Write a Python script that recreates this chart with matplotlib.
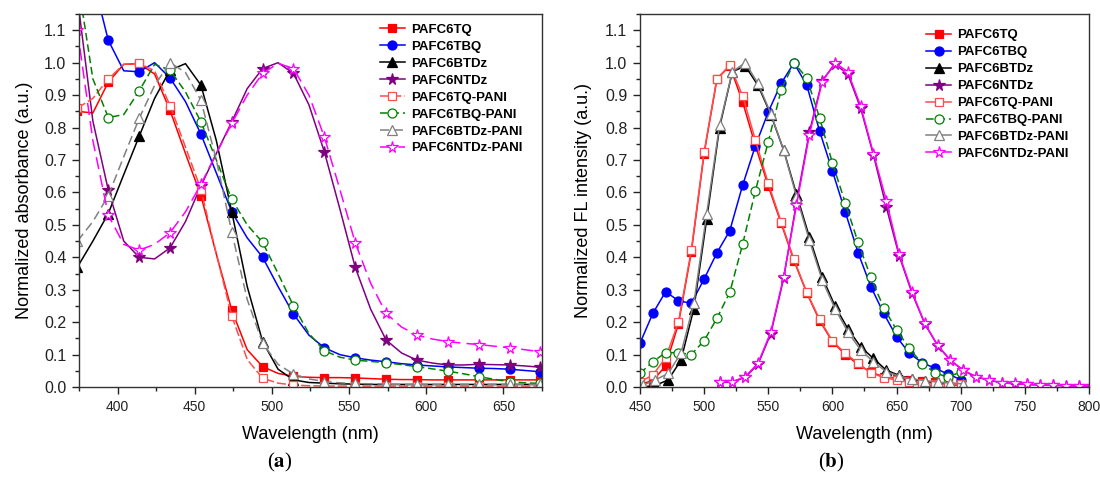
import numpy as np
import matplotlib
matplotlib.use("Agg")
import matplotlib.pyplot as plt
from matplotlib.ticker import MultipleLocator

plt.rcParams["font.family"] = ["Liberation Sans", "DejaVu Sans"]
plt.rcParams["mathtext.fontset"] = "stix"

# ---- (a) absorption spectra, sampled every 10 nm ----
abs_nm = np.arange(374, 675, 10)

abs_tq = [0.85, 0.845, 0.94, 0.995, 0.997, 0.965, 0.853, 0.72, 0.59, 0.41, 0.237,
          0.115, 0.063, 0.042, 0.033, 0.030, 0.029, 0.029, 0.028, 0.026, 0.024,
          0.023, 0.023, 0.022, 0.022, 0.022, 0.022, 0.022, 0.022, 0.022, 0.022]
abs_tbq = [1.45, 1.258, 1.069, 0.975, 0.972, 1.0, 0.953, 0.88, 0.78, 0.66, 0.54,
           0.46, 0.40, 0.31, 0.225, 0.16, 0.121, 0.10, 0.09, 0.083, 0.078,
           0.072, 0.068, 0.065, 0.062, 0.060, 0.058, 0.057, 0.055, 0.051, 0.047]
abs_btdz = [0.37, 0.45, 0.535, 0.655, 0.773, 0.89, 0.977, 0.997, 0.931, 0.76, 0.54,
            0.31, 0.14, 0.055, 0.022, 0.014, 0.012, 0.010, 0.009, 0.008, 0.008,
            0.008, 0.008, 0.008, 0.008, 0.008, 0.008, 0.008, 0.008, 0.008, 0.008]
abs_ntdz = [1.20, 0.82, 0.607, 0.45, 0.40, 0.395, 0.429, 0.51, 0.62, 0.72, 0.818,
            0.92, 0.982, 1.0, 0.967, 0.87, 0.725, 0.55, 0.369, 0.24, 0.145,
            0.105, 0.083, 0.074, 0.068, 0.068, 0.070, 0.069, 0.068, 0.065, 0.061]
abs_tq_pani = [0.86, 0.89, 0.95, 0.995, 0.998, 0.975, 0.868, 0.74, 0.609, 0.41, 0.219,
               0.085, 0.027, 0.012, 0.006, 0.004, 0.003, 0.003, 0.003, 0.003, 0.003,
               0.003, 0.003, 0.003, 0.003, 0.003, 0.003, 0.003, 0.003, 0.003, 0.003]
abs_tbq_pani = [1.26, 0.95, 0.831, 0.84, 0.913, 0.995, 0.977, 0.91, 0.818, 0.70, 0.579,
                0.50, 0.446, 0.35, 0.25, 0.165, 0.112, 0.092, 0.083, 0.079, 0.075,
                0.069, 0.063, 0.056, 0.049, 0.041, 0.032, 0.024, 0.016, 0.013, 0.011]
abs_btdz_pani = [0.45, 0.51, 0.59, 0.71, 0.828, 0.93, 1.0, 0.97, 0.884, 0.70, 0.478,
                 0.27, 0.135, 0.07, 0.04, 0.025, 0.017, 0.013, 0.011, 0.010, 0.009,
                 0.008, 0.008, 0.008, 0.008, 0.008, 0.008, 0.008, 0.008, 0.008, 0.008]
abs_ntdz_pani = [1.10, 0.76, 0.53, 0.44, 0.422, 0.44, 0.476, 0.54, 0.625, 0.72, 0.813,
                 0.90, 0.967, 0.998, 0.982, 0.90, 0.771, 0.61, 0.445, 0.32, 0.227,
                 0.185, 0.16, 0.148, 0.14, 0.135, 0.131, 0.126, 0.121, 0.115, 0.109]

# ---- (b) emission spectra ----
fl_nm = np.arange(450, 701, 10)
fl_nm_btdz = np.arange(452, 703, 10)
fl_nm_ntdz = np.arange(512, 803, 10)

fl_tq = [0.008, 0.02, 0.065, 0.195, 0.415, 0.72, 0.95, 0.99, 0.879, 0.744, 0.62,
         0.505, 0.39, 0.29, 0.205, 0.14, 0.10, 0.07, 0.045, 0.032, 0.027,
         0.022, 0.018, 0.015, 0.012, 0.010]
fl_tq_pani = [0.016, 0.037, 0.09, 0.201, 0.422, 0.725, 0.951, 0.992, 0.898, 0.761, 0.628,
              0.51, 0.394, 0.292, 0.209, 0.142, 0.104, 0.073, 0.044, 0.029, 0.022,
              0.015, 0.012, 0.010, 0.008, 0.008]
fl_tbq = [0.135, 0.227, 0.294, 0.266, 0.258, 0.333, 0.414, 0.482, 0.622, 0.744, 0.848,
          0.936, 0.999, 0.931, 0.789, 0.666, 0.54, 0.414, 0.309, 0.227, 0.155,
          0.104, 0.075, 0.058, 0.040, 0.023]
fl_tbq_pani = [0.042, 0.078, 0.106, 0.106, 0.10, 0.143, 0.212, 0.292, 0.44, 0.605, 0.756,
               0.915, 1.0, 0.953, 0.83, 0.691, 0.568, 0.446, 0.338, 0.244, 0.176,
               0.119, 0.072, 0.044, 0.030, 0.047]
fl_btdz = [0.0, 0.005, 0.022, 0.083, 0.242, 0.517, 0.80, 0.972, 0.99, 0.93, 0.84,
           0.73, 0.595, 0.463, 0.34, 0.25, 0.18, 0.124, 0.088, 0.052, 0.036,
           0.025, 0.018, 0.012, 0.008, 0.005]
fl_btdz_pani = [0.005, 0.022, 0.042, 0.105, 0.258, 0.535, 0.807, 0.972, 1.0, 0.936, 0.843,
                0.73, 0.587, 0.453, 0.33, 0.242, 0.17, 0.114, 0.078, 0.047, 0.034,
                0.025, 0.020, 0.015, 0.012, 0.010]
fl_ntdz = [0.014, 0.015, 0.03, 0.07, 0.165, 0.335, 0.57, 0.785, 0.945, 0.995, 0.965,
           0.86, 0.715, 0.555, 0.405, 0.29, 0.195, 0.128, 0.082, 0.051, 0.031,
           0.021, 0.013, 0.010, 0.008, 0.006, 0.005, 0.004, 0.003, 0.002]
fl_ntdz_pani = [0.016, 0.016, 0.032, 0.073, 0.17, 0.34, 0.561, 0.777, 0.941, 1.0, 0.972,
                0.866, 0.72, 0.575, 0.41, 0.294, 0.196, 0.129, 0.083, 0.052, 0.032,
                0.022, 0.013, 0.011, 0.008, 0.006, 0.006, 0.004, 0.003, 0.002]

labels = ["PAFC6TQ", "PAFC6TBQ", "PAFC6BTDz", "PAFC6NTDz",
          "PAFC6TQ-PANI", "PAFC6TBQ-PANI", "PAFC6BTDz-PANI", "PAFC6NTDz-PANI"]

# colour, marker, filled, size, linestyle in (a), linestyle in (b)
styles = [
    ("#ff0000", "s", True, 5.5, "-", "-"),
    ("#0000ff", "o", True, 6.5, "-", "-"),
    ("#000000", "^", True, 6.5, "-", "-"),
    ("#800080", "*", True, 8.5, "-", "-"),
    ("#ff4c4c", "s", False, 5.5, (0, (6, 2)), "-"),
    ("#008000", "o", False, 6.5, (0, (5, 2.5)), (0, (5, 2.5))),
    ("#808080", "^", False, 6.5, (0, (6, 3)), "-"),
    ("#ff00ff", "*", False, 8.5, (0, (8, 4)), "-"),
]

abs_series = [abs_tq, abs_tbq, abs_btdz, abs_ntdz,
              abs_tq_pani, abs_tbq_pani, abs_btdz_pani, abs_ntdz_pani]
fl_series = [(fl_nm, fl_tq), (fl_nm, fl_tbq), (fl_nm_btdz, fl_btdz), (fl_nm_ntdz, fl_ntdz),
             (fl_nm, fl_tq_pani), (fl_nm, fl_tbq_pani), (fl_nm_btdz, fl_btdz_pani),
             (fl_nm_ntdz, fl_ntdz_pani)]

fig = plt.figure(figsize=(11, 4.79), dpi=100)
ax1 = fig.add_axes([0.0718, 0.192, 0.4209, 0.7787])
ax2 = fig.add_axes([0.5818, 0.192, 0.4082, 0.7787])


def marker_kw(color, marker, filled, size):
    return dict(marker=marker, markersize=size, markeredgecolor=color,
                markerfacecolor=color if filled else "white", markeredgewidth=0.9)


for y, lab, (c, m, f, s, ls_a, ls_b) in zip(abs_series, labels, styles):
    ax1.plot(abs_nm, y, color=c, lw=1.1, ls=ls_a, markevery=2, label=lab,
             **marker_kw(c, m, f, s))

for (x, y), lab, (c, m, f, s, ls_a, ls_b) in zip(fl_series, labels, styles):
    ax2.plot(x, y, color=c, lw=1.1, ls=ls_b, label=lab, **marker_kw(c, m, f, s))

for ax, (x0, x1), ylab, ylab_x in [(ax1, (375, 675), "Normalized absorbance (a.u.)", -0.10),
                                   (ax2, (450, 800), "Normalized FL intensity (a.u.)", -0.107)]:
    ax.set_xlim(x0, x1)
    ax.set_ylim(0, 1.15)
    ax.xaxis.set_major_locator(MultipleLocator(50))
    ax.xaxis.set_minor_locator(MultipleLocator(25))
    ax.yaxis.set_major_locator(MultipleLocator(0.1))
    ax.yaxis.set_minor_locator(MultipleLocator(0.05))
    ax.tick_params(which="both", direction="out", top=False, right=False,
                   width=1, colors="#222222")
    ax.tick_params(axis="y", labelsize=11.5)
    ax.tick_params(axis="x", labelsize=10)
    ax.tick_params(which="major", length=5, pad=4)
    ax.tick_params(which="minor", length=3)
    for sp in ax.spines.values():
        sp.set_linewidth(1.0)
        sp.set_color("#333333")
    ax.set_xlabel("Wavelength (nm)", fontsize=13)
    ax.set_ylabel(ylab, fontsize=13)
    ax.xaxis.set_label_coords(0.5, -0.105)
    ax.yaxis.set_label_coords(ylab_x, 0.5)

leg_kw = dict(loc="upper left", frameon=False, borderpad=0, borderaxespad=0,
              handlelength=1.9, handletextpad=0.45, labelspacing=0.36,
              prop={"weight": "bold", "size": 9.5})
ax1.legend(bbox_to_anchor=(0.650, 0.975), **leg_kw)
ax2.legend(bbox_to_anchor=(0.637, 0.960), **leg_kw)

fig.text(280 / 1100, 1 - 462 / 479, r"($\mathbf{a}$)", ha="center", va="center",
         fontsize=15, family="Liberation Serif")
fig.text(831 / 1100, 1 - 462 / 479, r"($\mathbf{b}$)", ha="center", va="center",
         fontsize=15, family="Liberation Serif")

fig.savefig("out.png", dpi=100)
